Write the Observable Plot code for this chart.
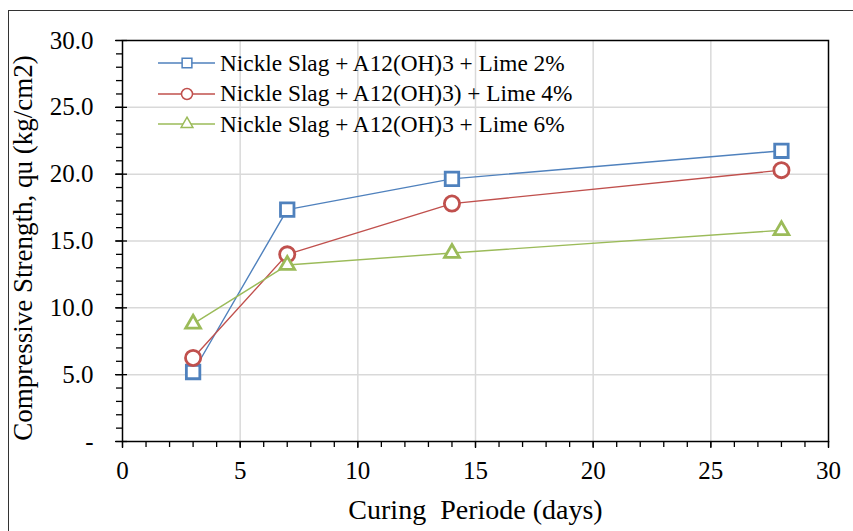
<!DOCTYPE html>
<html>
<head>
<meta charset="utf-8">
<script src="https://cdn.jsdelivr.net/npm/d3@7"></script>
<script src="https://cdn.jsdelivr.net/npm/@observablehq/plot@0.6"></script>
<style>
  html, body { margin: 0; padding: 0; background: #fff; overflow: hidden; }
  #wrap { position: relative; width: 853px; height: 531px; overflow: hidden; }
  #outer { position: absolute; left: 8px; top: 10px; width: 900px; height: 600px;
           border-left: 1.5px solid #333; border-top: 1.5px solid #333; }
  #chart { position: absolute; left: 0; top: 0; }
  #legend { position: absolute; left: 158px; top: 48px; font-family: "Liberation Serif", "Times New Roman", serif;
            font-size: 23.3px; color: #000; }
  .row { display: flex; align-items: center; height: 30.5px; white-space: nowrap; }
  .row svg { margin-right: 5px; }
</style>
</head>
<body>
<div id="wrap">
  <div id="outer"></div>
  <div id="chart"></div>
  <div id="legend"></div>
</div>
<script>
const days = [3, 7, 14, 28];
const lime2 = [5.2, 17.35, 19.65, 21.75];
const lime4 = [6.25, 14.0, 17.8, 20.3];
const lime6 = [8.8, 13.2, 14.1, 15.8];
const seriesNames = [
  "Nickle Slag + A12(OH)3 + Lime 2%",
  "Nickle Slag + A12(OH)3) + Lime 4%",
  "Nickle Slag + A12(OH)3 + Lime 6%"
];
const seriesColors = ["#4f81bd", "#c0504d", "#9bbb59"];
const seriesSymbols = ["square", "circle", "triangle"];
const markerRadius = [7.6, 7.6, 5.5];
const xTicks = [0, 5, 10, 15, 20, 25, 30];
const yTicks = [0, 5, 10, 15, 20, 25, 30];
const xTitle = "Curing  Periode (days)";
const yTitle = "Compressive Strength, qu (kg/cm2)";

const allValues = [lime2, lime4, lime6];
const rows = [];
allValues.forEach((vals, i) => {
  vals.forEach((v, j) => rows.push({ series: seriesNames[i], day: days[j], value: v, r: markerRadius[i] }));
});
const minor = d3.range(0, 31, 1);
const font = "'Liberation Serif', 'Times New Roman', serif";

const chart = Plot.plot({
  width: 853,
  height: 531,
  marginLeft: 122,
  marginRight: 25,
  marginTop: 40,
  marginBottom: 90,
  x: { domain: [0, 30] },
  y: { domain: [0, 30] },
  r: { type: "identity" },
  color: { domain: seriesNames, range: seriesColors },
  symbol: { domain: seriesNames, range: seriesSymbols },
  style: { fontFamily: font, fontSize: "25px", color: "#000", background: "transparent" },
  marks: [
    Plot.gridX(xTicks.slice(1, -1), { stroke: "#d9d9d9", strokeOpacity: 1, strokeWidth: 1.5 }),
    Plot.gridY(yTicks.slice(1, -1), { stroke: "#d9d9d9", strokeOpacity: 1, strokeWidth: 1.5 }),
    Plot.frame({ stroke: "#000", strokeWidth: 1.5 }),
    Plot.axisY(minor, { tickSize: 6, tickFormat: () => "", label: null, stroke: "#000", strokeWidth: 1.3 }),
    Plot.axisY(yTicks, { tickSize: -5, tickFormat: () => "", label: null, stroke: "#000", strokeWidth: 1.3 }),
    Plot.axisY(yTicks, { tickSize: 7, tickPadding: 22, label: null, stroke: "#000", strokeWidth: 1.3,
      tickFormat: d => d === 0 ? "-" : d.toFixed(1) }),
    Plot.axisX(minor, { tickSize: 6, tickFormat: () => "", label: null, stroke: "#000", strokeWidth: 1.3 }),
    Plot.axisX(xTicks, { tickSize: 7, tickPadding: 13, label: null, stroke: "#000", strokeWidth: 1.3,
      tickFormat: d => String(d) }),
    Plot.line(rows, { x: "day", y: "value", stroke: "series", strokeWidth: 1.4 }),
    Plot.dot(rows, { x: "day", y: "value", stroke: "series", symbol: "series", r: "r", fill: "white", strokeWidth: 2.8 }),
    Plot.text([xTitle], { frameAnchor: "bottom", dy: 69, lineAnchor: "middle", textAnchor: "middle", fontSize: 28, fill: "#000" }),
    Plot.text([yTitle], { frameAnchor: "left", dx: -99, dy: 7, rotate: -90, lineAnchor: "middle", textAnchor: "middle", fontSize: 27, fill: "#000" })
  ]
});
chart.style.whiteSpace = "pre";
document.getElementById("chart").appendChild(chart);

// Legend
const legend = document.getElementById("legend");
seriesNames.forEach((name, i) => {
  const row = document.createElement("div");
  row.className = "row";
  const svg = d3.create("svg").attr("width", 57).attr("height", 20);
  svg.append("line").attr("x1", 0).attr("x2", 57).attr("y1", 10).attr("y2", 10)
    .attr("stroke", seriesColors[i]).attr("stroke-width", 1.5);
  const sym = { square: d3.symbolSquare, circle: d3.symbolCircle, triangle: d3.symbolTriangle }[seriesSymbols[i]];
  svg.append("path").attr("d", d3.symbol(sym, i === 2 ? 60 : 95)()).attr("transform", "translate(29,10)")
    .attr("fill", "white").attr("stroke", seriesColors[i]).attr("stroke-width", 1.5);
  row.appendChild(svg.node());
  const span = document.createElement("span");
  span.textContent = name;
  row.appendChild(span);
  legend.appendChild(row);
});
</script>
</body>
</html>
